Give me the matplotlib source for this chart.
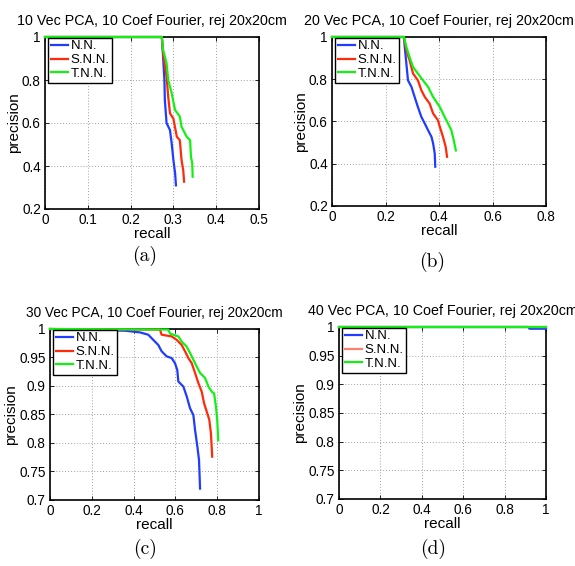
import matplotlib
matplotlib.use("Agg")
import matplotlib.pyplot as plt
from matplotlib.transforms import Bbox, TransformedBbox

plt.rcParams['font.family'] = ['Liberation Sans', 'DejaVu Sans']

W, H = 575, 566
DPI = 100

labels = ["N.N.", "S.N.N.", "T.N.N."]
colors = ["#1f3cff", "#ff2a0a", "#14f014"]

titles = ["10 Vec PCA, 10 Coef Fourier, rej 20x20cm",
          "20 Vec PCA, 10 Coef Fourier, rej 20x20cm",
          "30 Vec PCA, 10 Coef Fourier, rej 20x20cm",
          "40 Vec PCA, 10 Coef Fourier, rej 20x20cm"]
captions = ["(a)", "(b)", "(c)", "(d)"]

# Panel (a)
a_nn_r = [0, 0.273, 0.275, 0.279, 0.280, 0.284, 0.292, 0.296, 0.300, 0.304, 0.306]
a_nn_p = [1, 1, 0.94, 0.80, 0.707, 0.60, 0.567, 0.505, 0.428, 0.366, 0.31]
a_snn_r = [0, 0.273, 0.276, 0.284, 0.288, 0.292, 0.300, 0.308, 0.315, 0.319, 0.323, 0.325]
a_snn_p = [1, 1, 0.924, 0.815, 0.72, 0.645, 0.62, 0.536, 0.52, 0.428, 0.38, 0.327]
a_tnn_r = [0, 0.273, 0.276, 0.284, 0.288, 0.296, 0.304, 0.315, 0.319, 0.331, 0.339, 0.341, 0.344, 0.345]
a_tnn_p = [1, 1, 0.94, 0.878, 0.80, 0.738, 0.66, 0.63, 0.583, 0.536, 0.52, 0.443, 0.413, 0.35]

# Panel (b)
b_nn_r = [0, 0.269, 0.272, 0.278, 0.284, 0.297, 0.309, 0.321, 0.334, 0.347, 0.359, 0.372, 0.378, 0.384, 0.386]
b_nn_p = [1, 1, 0.953, 0.874, 0.795, 0.764, 0.716, 0.669, 0.622, 0.59, 0.559, 0.527, 0.496, 0.449, 0.386]
b_snn_r = [0, 0.269, 0.278, 0.290, 0.303, 0.321, 0.334, 0.347, 0.365, 0.378, 0.396, 0.403, 0.415, 0.425, 0.430]
b_snn_p = [1, 1, 0.937, 0.89, 0.827, 0.795, 0.748, 0.716, 0.685, 0.638, 0.606, 0.575, 0.527, 0.48, 0.433]
b_tnn_r = [0, 0.269, 0.278, 0.290, 0.303, 0.321, 0.340, 0.359, 0.378, 0.403, 0.421, 0.434, 0.446, 0.455, 0.463]
b_tnn_p = [1, 1, 0.953, 0.905, 0.858, 0.827, 0.795, 0.764, 0.716, 0.669, 0.622, 0.59, 0.559, 0.512, 0.463]

# Panel (c)
c_nn_r = [0, 0.359, 0.431, 0.47, 0.494, 0.518, 0.534, 0.558, 0.582, 0.598, 0.609, 0.614, 0.638, 0.654,
          0.67, 0.686, 0.694, 0.705, 0.713, 0.718]
c_nn_p = [1, 0.997, 0.994, 0.99, 0.981, 0.972, 0.961, 0.952, 0.949, 0.94, 0.928, 0.908, 0.899, 0.882,
          0.861, 0.849, 0.823, 0.794, 0.77, 0.72]
c_snn_r = [0, 0.526, 0.534, 0.582, 0.606, 0.63, 0.646, 0.662, 0.678, 0.694, 0.71, 0.726, 0.737, 0.75,
           0.762, 0.77, 0.776]
c_snn_p = [1, 0.999, 0.99, 0.987, 0.981, 0.972, 0.961, 0.949, 0.94, 0.923, 0.905, 0.89, 0.87, 0.855,
           0.841, 0.817, 0.776]
c_tnn_r = [0, 0.566, 0.574, 0.614, 0.63, 0.654, 0.67, 0.686, 0.702, 0.718, 0.742, 0.758, 0.774, 0.785,
           0.794, 0.80, 0.805]
c_tnn_p = [1, 0.999, 0.992, 0.987, 0.978, 0.969, 0.958, 0.946, 0.934, 0.923, 0.914, 0.899, 0.89, 0.887,
           0.864, 0.841, 0.805]

# Panel (d)
d_nn_r = [0, 0.915, 0.92, 1.0]
d_nn_p = [1, 1, 0.997, 0.997]
d_snn_r = [0, 1.0]
d_snn_p = [1, 1]
d_tnn_r = [0, 1.0]
d_tnn_p = [1, 1]

series = [
    [(a_nn_r, a_nn_p), (a_snn_r, a_snn_p), (a_tnn_r, a_tnn_p)],
    [(b_nn_r, b_nn_p), (b_snn_r, b_snn_p), (b_tnn_r, b_tnn_p)],
    [(c_nn_r, c_nn_p), (c_snn_r, c_snn_p), (c_tnn_r, c_tnn_p)],
    [(d_nn_r, d_nn_p), (d_snn_r, d_snn_p), (d_tnn_r, d_tnn_p)],
]

xlims = [(0, 0.5), (0, 0.8), (0, 1), (0, 1)]
ylims = [(0.2, 1), (0.2, 1), (0.7, 1), (0.7, 1)]
xticks = [[0, 0.1, 0.2, 0.3, 0.4, 0.5], [0, 0.2, 0.4, 0.6, 0.8],
          [0, 0.2, 0.4, 0.6, 0.8, 1], [0, 0.2, 0.4, 0.6, 0.8, 1]]
yticks = [[0.2, 0.4, 0.6, 0.8, 1], [0.2, 0.4, 0.6, 0.8, 1],
          [0.7, 0.75, 0.8, 0.85, 0.9, 0.95, 1], [0.7, 0.75, 0.8, 0.85, 0.9, 0.95, 1]]

def fmt(v):
    return "%g" % v

# pixel boxes: left, right, top, bottom
boxes = [(45, 259, 37, 209), (332, 546, 37, 206), (50, 259, 329, 500), (339, 546, 327, 499)]
title_y = [21, 21, 313, 311]
title_fs = [10.3, 10.3, 9.8, 10.3]
cap_pos = [(145, 256), (432, 262), (145, 549), (433, 549)]

fig = plt.figure(figsize=(W / DPI, H / DPI), dpi=DPI)

for i in range(4):
    l, r, t, b = boxes[i]
    ax = fig.add_axes([l / W, 1 - b / H, (r - l) / W, (b - t) / H])
    for j in range(3):
        xr, yp = series[i][j]
        c = colors[j]
        if i == 3 and j == 1:
            c = "#ff8070"
        ax.plot(xr, yp, color=c, lw=1.6, label=labels[j], clip_on=False, zorder=3)
    ax.set_xlim(*xlims[i])
    ax.set_ylim(*ylims[i])
    ax.set_xticks(xticks[i])
    ax.set_yticks(yticks[i])
    ax.set_xticklabels([fmt(v) for v in xticks[i]])
    ax.set_yticklabels([fmt(v) for v in yticks[i]])
    ax.tick_params(direction='in', length=3, width=0.6, labelsize=9.8, pad=3,
                   top=True, right=True, colors='black')
    ax.grid(True, linestyle=(0, (1, 2)), color='#a0a0a0', lw=0.7)
    ax.set_axisbelow(True)
    for s in ax.spines.values():
        s.set_linewidth(1.2)
        s.set_color('black')
    ax.set_xlabel("recall", fontsize=11, labelpad=0)
    ax.set_ylabel("precision", fontsize=11, labelpad=1)
    dx = 3.0 / (r - l)
    leg = ax.legend(loc='upper left', bbox_to_anchor=(dx, 0.997), fontsize=9.5, frameon=True,
                    fancybox=False, framealpha=1, edgecolor='black', borderpad=0.2,
                    labelspacing=0.12, handlelength=1.35, handletextpad=0.15, borderaxespad=0)
    leg.get_frame().set_linewidth(1.0)
    cx = (l + r) / 2
    tt = fig.text(cx / W, 1 - title_y[i] / H, titles[i], ha='center', va='center',
                  fontsize=title_fs[i])
    if i == 0:
        tt.set_clip_box(TransformedBbox(Bbox([[0, 0], [287 / W, 1]]), fig.transFigure))
        tt.set_clip_on(True)
    fig.text(cap_pos[i][0] / W, 1 - cap_pos[i][1] / H, captions[i], ha='center', va='center',
             fontsize=14, family=['cmr10', 'DejaVu Serif'])

fig.savefig("out.png", dpi=DPI)
